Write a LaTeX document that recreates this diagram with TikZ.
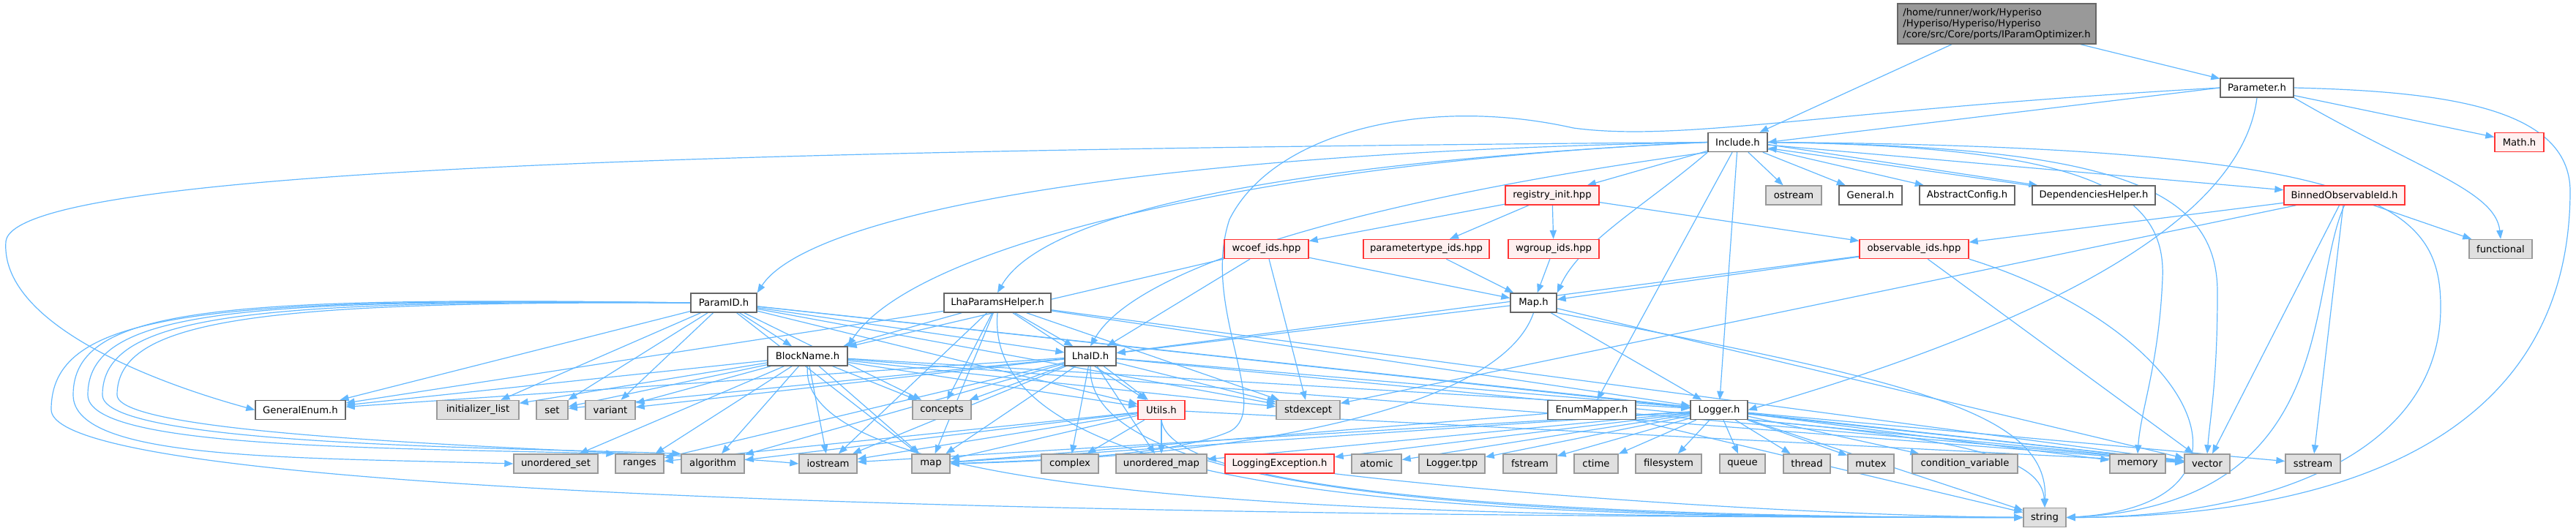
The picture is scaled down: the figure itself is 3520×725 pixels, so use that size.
\documentclass[tikz,border=0pt]{standalone}
\usepackage{fontspec}
\setmainfont{DejaVu Sans}
\usetikzlibrary{arrows.meta}
\definecolor{ecol}{HTML}{63B8FF}
\definecolor{bordergray}{HTML}{666666}
\definecolor{extborder}{HTML}{999999}
\definecolor{extfill}{HTML}{E0E0E0}
\definecolor{redborder}{HTML}{FF3333}
\definecolor{redfill}{HTML}{FFF0F0}
\definecolor{optfill}{HTML}{999999}
\pgfdeclarelayer{bg}
\pgfsetlayers{bg,main}
\newcommand{\mynode}[6]{\node[#1, minimum width=#5pt] (#2) at (#3,#4) {#6};}
\begin{document}
\begin{tikzpicture}[x=0.5pt,y=-0.5pt,
  box/.style={draw, line width=0.7pt, minimum height=13pt, inner sep=1pt, font=\fontsize{6.6}{7.5}\selectfont},
  wbox/.style={box, draw=bordergray, fill=white},
  xbox/.style={box, draw=extborder, fill=extfill},
  rbox/.style={box, draw=redborder, fill=redfill},
  obox/.style={box, draw=bordergray, fill=optfill, align=left, minimum height=27.5pt},
  dep/.style={draw=ecol, line width=0.6pt, -{Triangle[length=6pt,width=4.6pt]}}]
\useasboundingbox (0,0) rectangle (3520,725);
% row 1-3
\mynode{obox}{opt}{2728.5}{32.5}{135.5}{/home/runner/work/Hyperiso\\/Hyperiso/Hyperiso/Hyperiso\\/core/src/Core/ports/IParamOptimizer.h}
\mynode{wbox}{param}{3084}{120}{50}{Parameter.h}
\mynode{wbox}{incl}{2374.5}{194.5}{40.5}{Include.h}
\mynode{rbox}{math}{3442.5}{194.5}{33.5}{Math.h}
% row 4
\mynode{xbox}{ostream}{2451}{267}{38}{ostream}
\mynode{wbox}{general}{2556}{267}{43}{General.h}
\mynode{wbox}{abscfg}{2688}{267}{65}{AbstractConfig.h}
\mynode{wbox}{dephelp}{2861}{267}{84}{DependenciesHelper.h}
\mynode{rbox}{binned}{3203.5}{267}{82.5}{BinnedObservableId.h}
\mynode{rbox}{reginit}{2121}{267}{64}{registry\_init.hpp}
% row 5
\mynode{rbox}{wcoef}{1730.5}{340.5}{57.5}{wcoef\_ids.hpp}
\mynode{rbox}{ptype}{1949}{340.5}{86}{parametertype\_ids.hpp}
\mynode{rbox}{wgroup}{2123}{340.5}{62}{wgroup\_ids.hpp}
\mynode{rbox}{obsids}{2615.5}{340.5}{74.5}{observable\_ids.hpp}
\mynode{xbox}{functional}{3417}{340.5}{43}{functional}
% row 6
\mynode{wbox}{paramid}{989}{414}{45}{ParamID.h}
\mynode{wbox}{lhaph}{1363}{414}{73}{LhaParamsHelper.h}
\mynode{wbox}{maph}{2095.5}{414}{31.5}{Map.h}
% row 7
\mynode{wbox}{blockname}{1103.5}{487}{54.5}{BlockName.h}
\mynode{wbox}{lhaid}{1490}{487}{35}{LhaID.h}
% row 8
\mynode{wbox}{genenum}{410.5}{560.5}{61.5}{GeneralEnum.h}
\mynode{xbox}{initlist}{653}{560.5}{56}{initializer\_list}
\mynode{xbox}{set}{754.5}{560.5}{21.5}{set}
\mynode{xbox}{variant}{834}{560.5}{34}{variant}
\mynode{xbox}{concepts}{1287}{560.5}{40}{concepts}
\mynode{rbox}{utils}{1587}{560.5}{32}{Utils.h}
\mynode{xbox}{stdexcept}{1787.5}{560.5}{43.5}{stdexcept}
\mynode{wbox}{enummap}{2175}{560.5}{60}{EnumMapper.h}
\mynode{wbox}{logger}{2349}{560.5}{39}{Logger.h}
% row 9
\mynode{xbox}{uset}{759.5}{634}{57.5}{unordered\_set}
\mynode{xbox}{ranges}{874}{634}{33}{ranges}
\mynode{xbox}{algorithm}{974}{634}{43}{algorithm}
\mynode{xbox}{iostream}{1131.5}{634}{39.5}{iostream}
\mynode{xbox}{mapstd}{1272}{634}{26}{map}
\mynode{xbox}{complex}{1462}{634}{39}{complex}
\mynode{xbox}{umap}{1587}{634}{62}{unordered\_map}
\mynode{rbox}{logexc}{1748.5}{634}{74.5}{LoggingException.h}
\mynode{xbox}{atomic}{1881}{634}{34}{atomic}
\mynode{xbox}{loggertpp}{1984}{634}{45}{Logger.tpp}
\mynode{xbox}{fstream}{2090.5}{634}{36.5}{fstream}
\mynode{xbox}{ctime}{2181}{634}{30}{ctime}
\mynode{xbox}{filesystem}{2280}{634}{45}{filesystem}
\mynode{xbox}{queue}{2381}{634}{31}{queue}
\mynode{xbox}{thread}{2469}{634}{32}{thread}
\mynode{xbox}{mutex}{2556.5}{634}{31.5}{mutex}
\mynode{xbox}{condvar}{2685}{634}{72}{condition\_variable}
\mynode{xbox}{memory}{2921}{634}{38}{memory}
\mynode{xbox}{vector}{3016}{634}{31}{vector}
\mynode{xbox}{sstream}{3160.5}{634}{37.5}{sstream}
% row 10
\mynode{xbox}{string}{2794}{707.5}{29}{string}

\begin{pgfonlayer}{bg}
\foreach \a/\b in {opt/incl, opt/param, param/math, incl/ostream, incl/general, incl/abscfg,
  incl/binned, incl/reginit, incl/enummap, incl/logger,
  reginit/wcoef, reginit/ptype, reginit/wgroup, reginit/obsids,
  wcoef/maph, wcoef/stdexcept, wcoef/lhaid, wcoef/blockname, ptype/maph, wgroup/maph, obsids/maph, obsids/vector, obsids/lhaid,
  binned/obsids, binned/functional, binned/stdexcept, binned/vector, binned/sstream,
  maph/lhaid, maph/vector, maph/logger,
  lhaph/blockname, lhaph/lhaid, lhaph/genenum, lhaph/concepts, lhaph/utils, lhaph/stdexcept, lhaph/mapstd,
  lhaph/vector, lhaph/logger, lhaph/iostream,
  paramid/blockname, paramid/lhaid, paramid/genenum, paramid/initlist, paramid/set, paramid/variant,
  paramid/concepts, paramid/utils, paramid/stdexcept, paramid/vector, paramid/logger, paramid/mapstd,
  blockname/genenum, blockname/initlist, blockname/set, blockname/variant, blockname/uset, blockname/ranges,
  blockname/algorithm, blockname/iostream, blockname/mapstd, blockname/concepts, blockname/stdexcept,
  blockname/utils, blockname/logger, blockname/vector,
  lhaid/genenum, lhaid/variant, lhaid/set, lhaid/concepts, lhaid/utils, lhaid/stdexcept, lhaid/mapstd,
  lhaid/complex, lhaid/umap, lhaid/iostream, lhaid/algorithm, lhaid/ranges, lhaid/vector, lhaid/logger,
  utils/mapstd, utils/complex, utils/umap, utils/vector, utils/iostream, utils/algorithm, utils/ranges,
  enummap/mapstd, enummap/vector,
  logger/logexc, logger/atomic, logger/loggertpp, logger/fstream, logger/ctime, logger/filesystem,
  logger/queue, logger/thread, logger/mutex, logger/condvar, logger/memory, logger/vector, logger/sstream,
  logger/iostream, logger/mapstd, logger/umap}
  \draw[dep] (\a) -- (\b);
% Parameter.h
\draw[dep] (param.west) -- (incl.east);
\draw[dep] (param.south east) .. controls (3300,230) and (3410,260) .. (functional.north);
\draw[dep] (param.east) .. controls (3350,125) and (3510,150) .. (3512,260) .. controls (3512,650) and (3100,707) .. (string.east);
\draw[dep] (param.south) .. controls (3060,330) and (2700,470) .. (logger.east);
\draw[dep] (param.west) .. controls (2500,150) and (2300,195) .. (2150,175) .. controls (1950,130) and (1740,180) .. (1680,300) .. controls (1640,420) and (1740,560) .. (1680,590) .. controls (1600,625) and (1400,630) .. (mapstd.east);
% Include.h
\draw[dep] ([yshift=-1.5pt]incl.east) -- ([xshift=4pt]dephelp.north west);
\draw[dep] ([xshift=-2pt]dephelp.north west) -- ([yshift=-4pt]incl.east);
\draw[dep] (incl.south west) .. controls (2250,280) and (2160,330) .. (maph.north east);
\draw[dep] (incl.east) .. controls (2850,200) and (2960,260) .. (2955,380) .. controls (2950,500) and (2925,560) .. (memory.north);
\draw[dep] (incl.east) .. controls (2900,200) and (3030,260) .. (3030,400) .. controls (3030,520) and (3020,570) .. (vector.north);
\draw[dep] (incl.east) .. controls (3250,200) and (3335,280) .. (3335,420) .. controls (3335,620) and (3100,707) .. (string.east);
\draw[dep] (incl.west) .. controls (1700,225) and (1420,300) .. (lhaph.north);
\draw[dep] (incl.west) .. controls (1500,210) and (1100,300) .. (paramid.north east);
\draw[dep] (incl.west) .. controls (1750,220) and (1250,330) .. (blockname.north east);
\draw[dep] (incl.south west) .. controls (1950,260) and (1560,350) .. (lhaid.north);
\draw[dep] (incl.west) .. controls (1000,205) and (20,230) .. (8,330) .. controls (0,440) and (200,520) .. (genenum.west);
% to string
\draw[dep] (obsids.south east) .. controls (3000,450) and (3120,690) .. (string.east);
\draw[dep] (binned.south) .. controls (3150,400) and (3200,690) .. (string.east);
\draw[dep] (maph.south east) .. controls (2600,520) and (2800,560) .. (string.north);
\draw[dep] (logger.south east) .. controls (2700,600) and (2790,630) .. (string.north);
\draw[dep] (logger) -- (string);
\draw[dep] (maph.south) .. controls (2050,560) and (1700,625) .. (mapstd.east);
\draw[dep] (enummap) -- (string);
\draw[dep] (logexc.south east) .. controls (2100,680) and (2500,705) .. (string.west);
\draw[dep] (utils.south) .. controls (1600,690) and (2300,707) .. (string.west);
\draw[dep] (lhaid.south) .. controls (1480,695) and (2200,707) .. (string.west);
\draw[dep] (lhaph.south) .. controls (1340,700) and (2100,707) .. (string.west);
\draw[dep] (blockname.south) .. controls (1085,700) and (2000,707) .. (string.west);
% ParamID loops on the left
\draw[dep] (paramid.west) .. controls (300,405) and (100,420) .. (100,540) .. controls (100,630) and (400,625) .. (uset.west);
\draw[dep] (paramid.west) .. controls (320,408) and (120,425) .. (120,540) .. controls (120,612) and (500,612) .. (ranges.north west);
\draw[dep] (paramid.west) .. controls (340,410) and (140,430) .. (140,540) .. controls (140,610) and (700,612) .. (algorithm.north west);
\draw[dep] (paramid.west) .. controls (360,412) and (160,435) .. (160,540) .. controls (160,605) and (900,615) .. (iostream.west);
\draw[dep] (paramid.west) .. controls (260,405) and (70,430) .. (70,560) .. controls (70,690) and (1800,707) .. (string.west);
\end{pgfonlayer}
\end{tikzpicture}
\end{document}
